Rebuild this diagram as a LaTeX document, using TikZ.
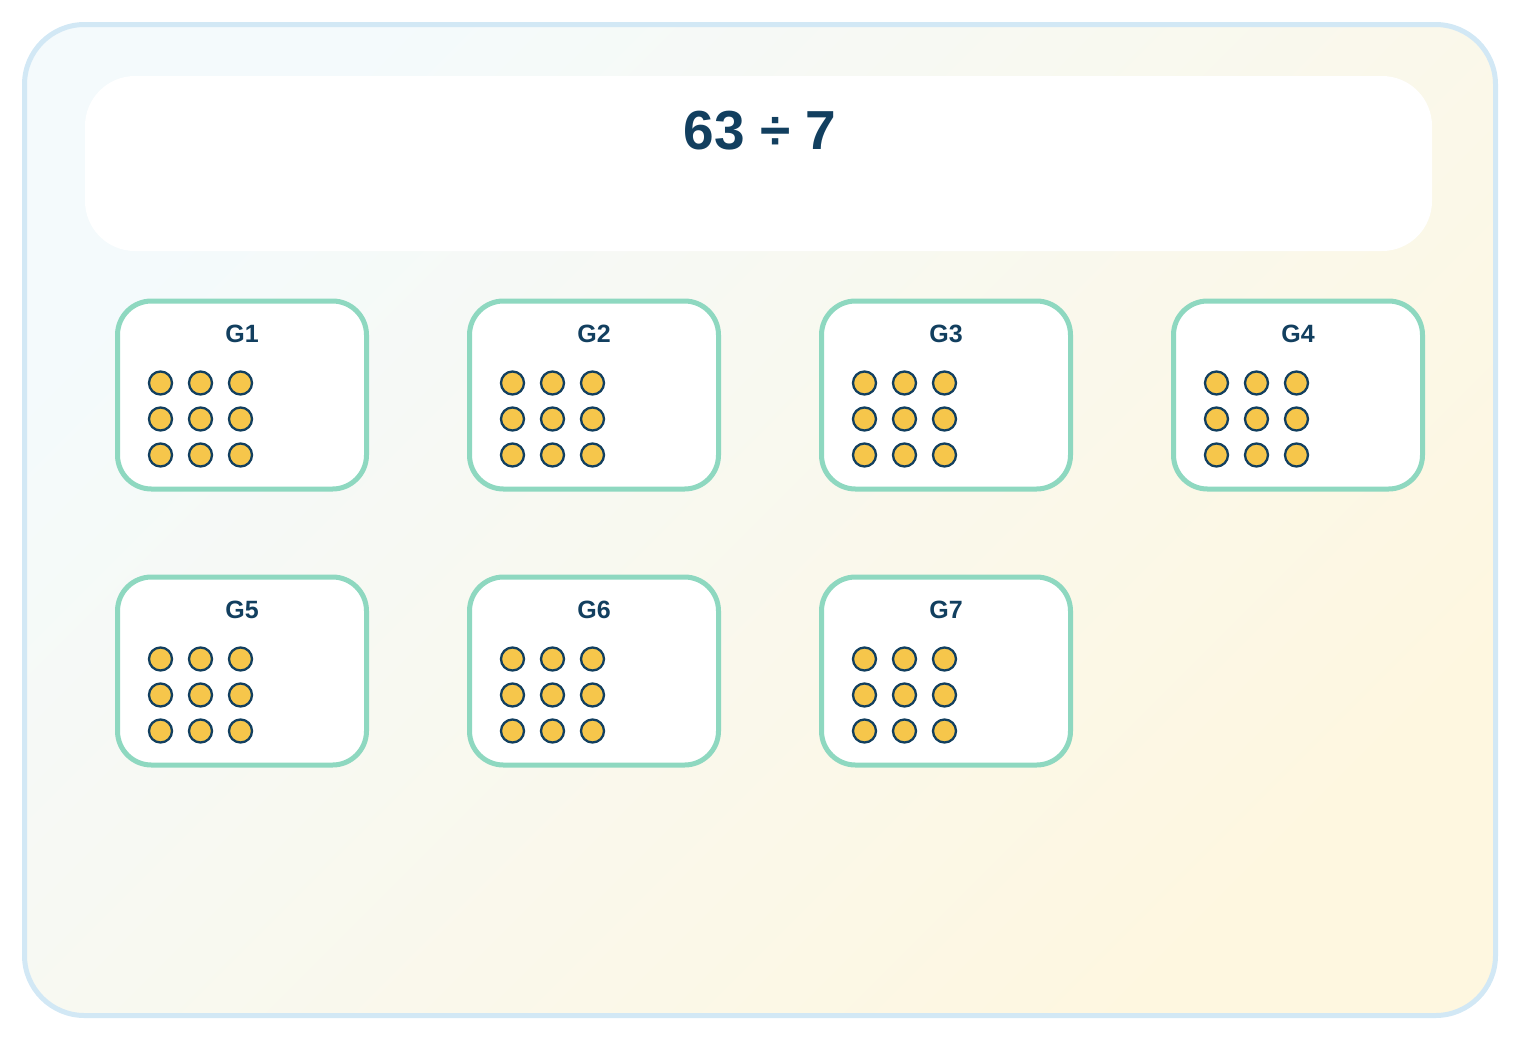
\documentclass[tikz,border=0pt]{standalone}
\usepackage{fontspec}
\setmainfont{Liberation Sans}
\usetikzlibrary{calc}
\definecolor{frameblue}{HTML}{D2E8F5}
\definecolor{bgtop}{HTML}{F4FAFC}
\definecolor{bgbot}{HTML}{FEF7E0}
\definecolor{navy}{HTML}{123F5F}
\definecolor{mint}{HTML}{8ED8C0}
\definecolor{gold}{HTML}{F6C64B}
\tikzset{
  groupbox/.style={draw=mint,line width=2.5pt,fill=white,rounded corners=17pt,
    minimum width=124.5pt,minimum height=94pt,inner sep=0pt},
  grouplabel/.style={text=navy,font=\bfseries\fontsize{12.5}{15}\selectfont},
  dot/.style={circle,draw=navy,line width=1.15pt,fill=gold,minimum size=11.5pt,inner sep=0pt}
}

\begin{document}
\begin{tikzpicture}[x=0.5pt,y=-0.5pt]
        \useasboundingbox (0,0) rectangle (1520,1040);
        % frame and title panel
        \path[draw=frameblue,line width=2.5pt,top color=bgtop,bottom color=bgbot,
          shading angle=45,rounded corners=30pt] (24.5,24.5) rectangle (1495.5,1015.5);
        \fill[white,rounded corners=25pt] (85,76) rectangle (1432,251);
        \node[text=navy,font=\bfseries\fontsize{27.5}{33}\selectfont] (title) at (760,131) {63 ÷ 7};
        % seven groups of nine
        \foreach \n/\x/\y in {1/242/395,2/594/395,3/946/395,4/1298/395,
                              5/242/671,6/594/671,7/946/671} {
          \node[groupbox] (g\n) at (\x,\y) {};
          \node[grouplabel] (l\n) at ($(g\n.north)+(0,35)$) {G\n};
          \foreach \r in {0,1,2}
            \foreach \c in {0,1,2}
              \node[dot] (d\n-\r\c) at ($(g\n.north west)+(45.5+40*\c,84.5+36*\r)$) {};
        }
\end{tikzpicture}
\end{document}
